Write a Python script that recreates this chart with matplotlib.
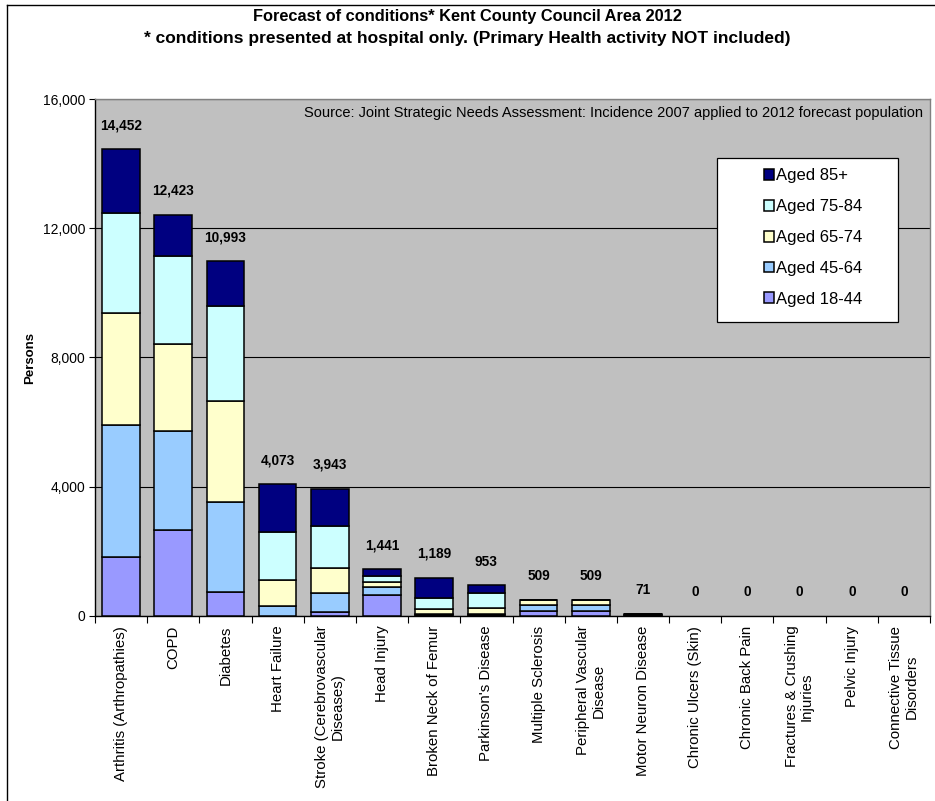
import matplotlib

matplotlib.use("Agg")
import matplotlib.pyplot as plt
import numpy as np
from matplotlib.lines import Line2D
from matplotlib.patches import Rectangle

plt.rcParams["font.family"] = ["Liberation Sans", "DejaVu Sans"]

conditions = [
    "Arthritis (Arthropathies)",
    "COPD",
    "Diabetes",
    "Heart Failure",
    "Stroke (Cerebrovascular\nDiseases)",
    "Head Injury",
    "Broken Neck of Femur",
    "Parkinson's Disease",
    "Multiple Sclerosis",
    "Peripheral Vascular\nDisease",
    "Motor Neuron Disease",
    "Chronic Ulcers (Skin)",
    "Chronic Back Pain",
    "Fractures & Crushing\nInjuries",
    "Pelvic Injury",
    "Connective Tissue\nDisorders",
]

# persons per age band, stacked bottom to top
aged_18_44 = [1829, 2674, 750, 0, 114, 648, 15, 17, 140, 140, 10, 0, 0, 0, 0, 0]
aged_45_64 = [4093, 3063, 2776, 308, 586, 256, 47, 45, 195, 195, 25, 0, 0, 0, 0, 0]
aged_65_74 = [3464, 2693, 3137, 802, 790, 154, 145, 175, 160, 160, 18, 0, 0, 0, 0, 0]
aged_75_84 = [3085, 2705, 2930, 1490, 1295, 185, 339, 482, 9, 9, 12, 0, 0, 0, 0, 0]
aged_85_plus = [1981, 1288, 1400, 1473, 1158, 198, 643, 234, 5, 5, 6, 0, 0, 0, 0, 0]

totals = [14452, 12423, 10993, 4073, 3943, 1441, 1189, 953, 509, 509, 71, 0, 0, 0, 0, 0]

bands = [
    ("Aged 18-44", aged_18_44, "#9999FF"),
    ("Aged 45-64", aged_45_64, "#99CCFF"),
    ("Aged 65-74", aged_65_74, "#FFFFCC"),
    ("Aged 75-84", aged_75_84, "#CCFFFF"),
    ("Aged 85+", aged_85_plus, "#000080"),
]

fig = plt.figure(figsize=(9.35, 8.01), dpi=100)
ax = fig.add_axes([0.1016, 0.2310, 0.8931, 0.6454])
ax.set_facecolor("#C0C0C0")

x = np.arange(len(conditions))
bottom = np.zeros(len(conditions))
handles = []
for label, values, color in bands:
    vals = np.array(values, dtype=float)
    # empty segments get no outline so zero bars stay invisible
    bars = ax.bar(x, vals, width=0.72, bottom=bottom, color=color,
                  edgecolor="black", linewidth=np.where(vals > 0, 1.1, 0.0),
                  label=label, zorder=3)
    handles.append(bars)
    bottom += vals

for xi, total in zip(x, totals):
    ax.annotate(f"{total:,}", (xi, total), xytext=(0, 17), textcoords="offset points",
                ha="center", va="center", fontsize=9.8, fontweight="bold", zorder=6)

ax.set_xlim(-0.5, len(conditions) - 0.5)
ax.set_ylim(0, 16000)
ax.set_yticks(np.arange(0, 16001, 4000))
ax.set_yticklabels([f"{v:,}" for v in range(0, 16001, 4000)], fontsize=10)
ax.yaxis.grid(True, color="black", linewidth=0.8, zorder=1)
ax.set_axisbelow(True)
ax.tick_params(axis="y", direction="out", length=4, width=0.8, pad=3)

ax.set_xticks(x)
ax.set_xticklabels(conditions, rotation=90, fontsize=10.8, ha="center", va="top",
                   multialignment="center", linespacing=1.1)
ax.tick_params(axis="x", which="major", length=0, pad=7)
ax.set_xticks(np.arange(-0.5, len(conditions), 1.0), minor=True)
ax.tick_params(axis="x", which="minor", direction="out", length=5, width=0.8)

for side in ("top", "right"):
    ax.spines[side].set_color("#808080")
for side in ("left", "bottom"):
    ax.spines[side].set_color("black")
for s in ax.spines.values():
    s.set_linewidth(1.0)

ax.text(0.992, 0.972,
        "Source: Joint Strategic Needs Assessment: Incidence 2007 applied to 2012 forecast population",
        transform=ax.transAxes, ha="right", va="center", fontsize=10.5)

# legend box
ax.add_patch(Rectangle((0.745, 0.569), 0.217, 0.317, transform=ax.transAxes,
                       facecolor="white", edgecolor="black", linewidth=0.9, zorder=4))
leg = ax.legend(handles[::-1], [b[0] for b in bands][::-1],
                loc="upper left", bbox_to_anchor=(0.791, 0.882), frameon=False,
                fontsize=12, labelspacing=0.95, handlelength=0.62, handleheight=0.62,
                handletextpad=0.12, borderpad=0)
leg.set_zorder(5)

fig.text(0.5, 1 - 16 / 801, "Forecast of conditions* Kent County Council Area 2012",
         ha="center", va="center", fontsize=11.8, fontweight="bold")
fig.text(0.5, 1 - 38 / 801,
         "* conditions presented at hospital only. (Primary Health activity NOT included)",
         ha="center", va="center", fontsize=12.5, fontweight="bold")
fig.text(30 / 935, 1 - 358 / 801, "Persons", rotation=90, ha="center", va="center",
         fontsize=9.5, fontweight="bold")

# outer chart frame
fig.add_artist(Line2D([7 / 935, 7 / 935], [0, 1 - 5 / 801], color="black", linewidth=1.0))
fig.add_artist(Line2D([7 / 935, 1], [1 - 5 / 801, 1 - 5 / 801], color="black", linewidth=1.0))

fig.savefig("out.png", dpi=100)
